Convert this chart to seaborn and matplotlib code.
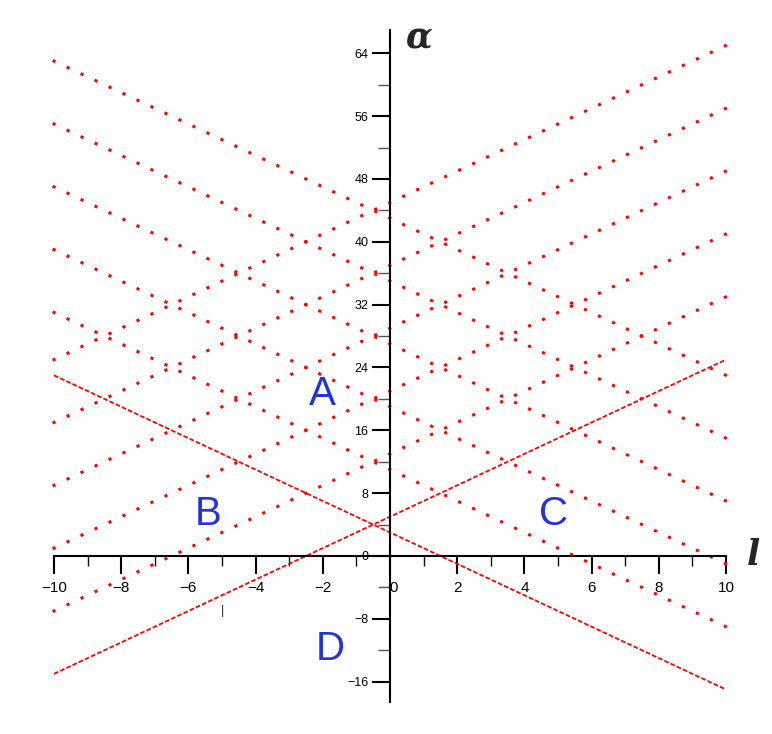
import numpy as np
import pandas as pd
import matplotlib
matplotlib.use("Agg")
import matplotlib.pyplot as plt
import seaborn as sns

# alpha read at both ends of every line (l = -10 and l = 10)
l_ends = [-10, 10]
falling_left = [63, 55, 47, 39, 31]
falling_right = [23, 15, 7, -1, -9]
rising_left = [25, 17, 9, 1, -7]
rising_right = [65, 57, 49, 41, 33]

# the two lowest lines are drawn dashed
dashed_left = [23, -15]
dashed_right = [-17, 25]

x_ticks = [-10, -8, -6, -4, -2, 0, 2, 4, 6, 8, 10]
x_tick_labels = ["\u221210", "\u22128", "\u22126", "\u22124", "\u22122", "\u22120",
                 "2", "4", "6", "8", "10"]
x_minor = [-9, -7, -5, -3, -1, 1, 3, 5, 7, 9]
y_ticks = [-16, -8, 0, 8, 16, 24, 32, 40, 48, 56, 64]
y_tick_labels = ["\u221216", "\u22128", "0", "8", "16", "24", "32", "40", "48", "56", "64"]
y_minor = [-12, -4, 4, 12, 20, 28, 36, 44, 52, 60]

region_names = ["A", "B", "C", "D"]
region_l = [-2.02, -5.42, 4.88, -1.79]
region_alpha = [20.6, 5.3, 5.3, -11.8]

n_steps = 48  # each dotted line is sampled in 48 equal steps


rows = []
for i in range(len(falling_left)):
    rows.append(("f%d" % i, l_ends[0], falling_left[i]))
    rows.append(("f%d" % i, l_ends[1], falling_right[i]))
for i in range(len(rising_left)):
    rows.append(("r%d" % i, l_ends[0], rising_left[i]))
    rows.append(("r%d" % i, l_ends[1], rising_right[i]))
dots = pd.DataFrame(rows, columns=["line", "l", "alpha"])

rows = []
for i in range(len(dashed_left)):
    rows.append(("d%d" % i, l_ends[0], dashed_left[i]))
    rows.append(("d%d" % i, l_ends[1], dashed_right[i]))
dashed = pd.DataFrame(rows, columns=["line", "l", "alpha"])

sns.set_theme(style="white")
plt.rcParams["lines.scale_dashes"] = False
plt.rcParams["font.family"] = ["Liberation Sans", "DejaVu Sans"]

fig = plt.figure(figsize=(7.72, 7.34), dpi=100)
ax = fig.add_axes([54 / 772, 31.9 / 734, 672 / 772, 672.4 / 734])
ax.set_xlim(-10, 10)
ax.set_ylim(-18.6, 67)

sns.lineplot(data=dots, x="l", y="alpha", units="line", estimator=None,
             sort=False, color="#ff0000", lw=2.2, legend=False, ax=ax)
n_dotted = len(ax.lines)
sns.lineplot(data=dashed, x="l", y="alpha", units="line", estimator=None,
             sort=False, color="#ff0000", lw=1.3, legend=False, ax=ax)

# spacing of the dots along a line, in points
p = ax.transData.transform([[l_ends[0], falling_left[0]], [l_ends[1], falling_right[0]]])
period = np.hypot(*(p[1] - p[0])) * 72 / fig.dpi / n_steps * 0.999

for i, ln in enumerate(ax.lines):
    ln.set_clip_on(False)
    if i < n_dotted:
        ln.set_dashes((0.05, period - 0.05))
        ln.set_dash_capstyle("projecting")
    else:
        ln.set_dashes((3.4, 1.5))

ax.set_xlabel("")
ax.set_ylabel("")
ax.grid(False)

for s in ["top", "right"]:
    ax.spines[s].set_visible(False)
ax.spines["left"].set_position(("data", 0))
ax.spines["bottom"].set_position(("data", 0))
for s in ["left", "bottom"]:
    ax.spines[s].set_linewidth(1.5)
    ax.spines[s].set_color("black")

ax.set_xticks(x_ticks)
ax.set_xticklabels(x_tick_labels, fontsize=11)
ax.set_xticks(x_minor, minor=True)
ax.set_yticks(y_ticks)
ax.set_yticklabels(y_tick_labels, fontsize=9)
ax.set_yticks(y_minor, minor=True)

ax.tick_params(axis="x", which="major", bottom=True, direction="out",
               length=13, width=1.5, pad=5, colors="black")
ax.tick_params(axis="x", which="minor", bottom=True, direction="out",
               length=7.5, width=1.0, color="#111111")
ax.tick_params(axis="y", which="major", left=True, direction="out",
               length=13, width=1.5, pad=2.5, colors="black")
ax.tick_params(axis="y", which="minor", left=True, direction="out",
               length=8.5, width=1.0, color="#555555")

serif_bi = dict(family="DejaVu Serif", weight="bold", style="italic")
ax.text(0.45, 64.7, "\u03b1", fontsize=25, ha="left", va="baseline",
        clip_on=False, **serif_bi)
ax.text(10.82, -1.15, "l", fontsize=25, ha="center", va="baseline",
        clip_on=False, **serif_bi)

for name, lx, ay in zip(region_names, region_l, region_alpha):
    ax.text(lx, ay, name, fontsize=29, color="#2233dd", ha="center", va="center")

# small stray mark below the axis
ax.text(-5.0, -7.0, "|", fontsize=9, color="#222222", ha="center", va="center")

fig.savefig("out.png", dpi=100)
